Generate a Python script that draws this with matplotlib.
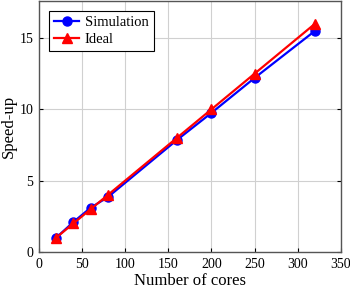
import numpy as np
import matplotlib
matplotlib.use("Agg")
import matplotlib.pyplot as plt

# datos
cores = [20, 40, 60, 80, 160, 200, 250, 320]
speedup_sim = [1.0, 2.1, 3.1, 3.85, 7.85, 9.75, 12.2, 15.5]
speedup_ideal = [1, 2, 3, 4, 8, 10, 12.5, 16]
xticks = [0, 50, 100, 150, 200, 250, 300, 350]
yticks = [0, 5, 10, 15]

plt.rcParams['font.family'] = ['Liberation Serif', 'DejaVu Serif']
plt.rcParams['font.size'] = 10

fig = plt.figure(figsize=(3.5, 2.9), dpi=100)
ax = fig.add_axes([0.111, 0.131, 0.863, 0.866])

ax.plot(cores, speedup_sim, color='blue', marker='o', markersize=6.5, linewidth=1.6, label='Simulation')
ax.plot(cores, speedup_ideal, color='red', marker='^', markersize=6.5, linewidth=1.6, label='Ideal')

ax.set_xlim(0, 350)
ax.set_ylim(0, 17.6)
ax.set_xticks(xticks)
ax.set_yticks(yticks)
ax.grid(True, color='#d0d0d0', linewidth=0.8)
ax.set_axisbelow(True)
ax.tick_params(direction='in', right=True, length=3, labelsize=10, pad=4)
for s in ax.spines.values():
    s.set_color('#555555')
    s.set_linewidth(1.0)

ax.set_xlabel('Number of cores', fontsize=12, labelpad=2)
ax.set_ylabel('Speed-up', fontsize=12, labelpad=2)

leg = ax.legend(loc='upper left', fancybox=False, framealpha=1, edgecolor='black',
                fontsize=10.5, handlelength=1.7, borderaxespad=0.7,
                borderpad=0.35, labelspacing=0.25, handletextpad=0.4)
leg.get_frame().set_linewidth(0.8)

fig.savefig('out.png', dpi=100)
